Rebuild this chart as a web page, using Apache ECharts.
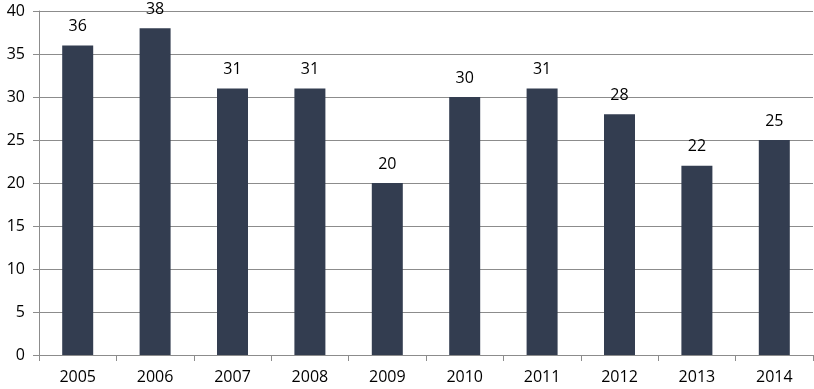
<!DOCTYPE html>
<html>
<head>
<meta charset="utf-8">
<script src="https://cdn.jsdelivr.net/npm/echarts@6/dist/echarts.min.js"></script>
<style>
html, body { margin: 0; padding: 0; background: #fff; }
#main { width: 814px; height: 389px; }
</style>
</head>
<body>
<div id="main"></div>
<script>
var years = ['2005', '2006', '2007', '2008', '2009', '2010', '2011', '2012', '2013', '2014'];
var values = [36, 38, 31, 31, 20, 30, 31, 28, 22, 25];

var chart = echarts.init(document.getElementById('main'));
chart.setOption({
    animation: false,
    grid: { left: 39, right: 1, top: 11, bottom: 34 },
    xAxis: {
        type: 'category',
        data: years,
        axisLine: { lineStyle: { color: '#8c8c8c', width: 1 } },
        axisTick: { show: true, alignWithLabel: false, length: 6, lineStyle: { color: '#8c8c8c' } },
        axisLabel: { color: '#000', fontSize: 16, fontFamily: 'Open Sans', margin: 14 }
    },
    yAxis: {
        type: 'value',
        min: 0,
        max: 40,
        interval: 5,
        axisLine: { show: true, lineStyle: { color: '#8c8c8c', width: 1 } },
        axisTick: { show: true, length: 6, lineStyle: { color: '#8c8c8c' } },
        axisLabel: { color: '#000', fontSize: 16, fontFamily: 'Open Sans', margin: 14 },
        splitLine: { show: true, lineStyle: { color: '#8c8c8c', width: 1 } }
    },
    series: [{
        type: 'bar',
        data: values,
        barWidth: 31,
        itemStyle: { color: '#333d50' },
        label: {
            show: true,
            position: 'top',
            distance: 11,
            color: '#000',
            fontSize: 16,
            fontFamily: 'Open Sans'
        }
    }]
});
</script>
</body>
</html>
